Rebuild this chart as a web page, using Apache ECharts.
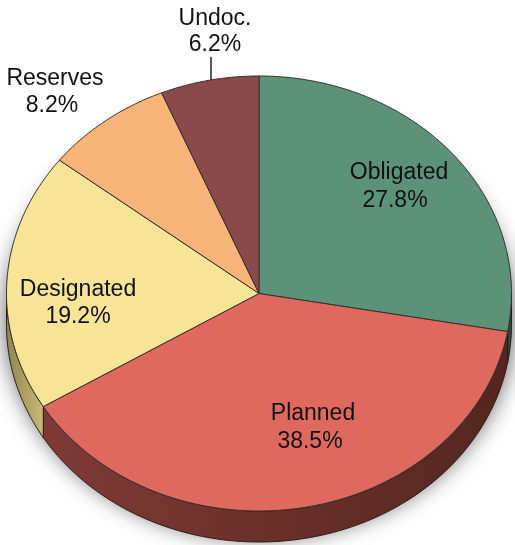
<!DOCTYPE html>
<html><head><meta charset="utf-8">
<style>
html,body{margin:0;padding:0;background:#fff}
#wrap{position:relative;width:515px;height:545px;overflow:hidden}
#soft{position:absolute;left:6.5px;top:101px;width:505px;height:435px;border-radius:50%;background:#888;box-shadow:0 0 22px 2px rgba(0,0,0,0.6)}
#c{position:absolute;left:0;top:0;width:515px;height:545px}
</style>
<script src="https://cdn.jsdelivr.net/npm/echarts@6/dist/echarts.min.js"></script>
</head><body><div id="wrap"><div id="soft"></div><div id="c"></div></div>
<script>
const categories = ['Obligated', 'Planned', 'Designated', 'Reserves', 'Undoc.'];
const percents = [27.8, 38.5, 19.2, 8.2, 6.2];

const topColors = ['#5c917a', '#e0695f', '#f7e497', '#f7b478', '#8a4a4c'];
const rimStops = [
  ['#2b4a3d', '#2b4a3d'],
  ['#7f3a36', '#54261f'],
  ['#8f8650', '#c9bb75'],
  ['#b08050', '#b08050'],
  ['#5a2f30', '#5a2f30']
];
// label centres in pixels: [name x, name y, percent x, percent y]
const labelPlaces = [
  [399, 173, 395, 201],
  [313, 414, 310, 442],
  [78, 290, 78, 317],
  [55, 79, 52, 106],
  [215, 19, 215, 45]
];
const CX = 259, CY = 293.5, RX = 252.5, RY = 217.5, DEPTH = 31;
const LABEL_FONT = '23px "Liberation Sans", Arial, sans-serif';
const FULL_CIRCLE_PERCENT = 100;

const starts = [];
percents.reduce((acc, v, i) => { starts[i] = acc; return acc + v; }, 0);
const toAngle = v => v / FULL_CIRCLE_PERCENT * 2 * Math.PI;
const rimPoint = (a, dy) => [
  CX + RX * Math.sin(a),
  CY - RY * Math.cos(a) + (dy || 0)
];

function arcPoints(a0, a1, dy) {
  const n = Math.max(2, Math.ceil((a1 - a0) / 0.01));
  const pts = [];
  for (let i = 0; i <= n; i++) pts.push(rimPoint(a0 + (a1 - a0) * i / n, dy));
  return pts;
}
// the rounding gap of the printed percentages closes on the last slice
function sliceEnd(i, value) {
  return i === percents.length - 1 ? 2 * Math.PI : toAngle(starts[i] + value);
}

function renderRim(params, api) {
  const i = params.dataIndex;
  const a0 = toAngle(starts[i]), a1 = sliceEnd(i, api.value(0));
  const lo = Math.max(a0, Math.PI / 2), hi = Math.min(a1, 1.5 * Math.PI);
  if (hi <= lo) return null;
  return {
    type: 'polygon',
    shape: { points: arcPoints(lo, hi, 0).concat(arcPoints(lo, hi, DEPTH).reverse()) },
    style: {
      fill: {
        type: 'linear', x: 0, y: 0, x2: 1, y2: 0,
        colorStops: [
          { offset: 0, color: rimStops[i][0] },
          { offset: 1, color: rimStops[i][1] }
        ]
      },
      stroke: '#2a1a18', lineWidth: 1
    }
  };
}

function renderTop(params, api) {
  const i = params.dataIndex;
  const a0 = toAngle(starts[i]), a1 = sliceEnd(i, api.value(0));
  return {
    type: 'polygon',
    shape: { points: [[CX, CY]].concat(arcPoints(a0, a1, 0)) },
    style: { fill: topColors[i], stroke: '#33302a', lineWidth: 1, lineJoin: 'round' }
  };
}

function renderLabel(params, api) {
  const i = params.dataIndex;
  const p = labelPlaces[i];
  const txt = (t, x, y) => ({
    type: 'text',
    style: { text: t, x, y, align: 'center', verticalAlign: 'middle', font: LABEL_FONT, fill: '#111' }
  });
  const kids = [
    txt(categories[i], p[0], p[1]),
    txt(api.value(0).toFixed(1) + '%', p[2], p[3])
  ];
  if (categories[i] === 'Undoc.') {
    kids.push({
      type: 'line',
      shape: { x1: 211, y1: 57, x2: 211, y2: 80 },
      style: { stroke: '#222', lineWidth: 1.5 }
    });
  }
  return { type: 'group', children: kids };
}

const pieData = categories.map((name, i) => ({ name, value: [percents[i]] }));
const base = { type: 'custom', coordinateSystem: 'none', silent: true, animation: false, clip: false };

const chart = echarts.init(document.getElementById('c'), null, { renderer: 'canvas' });
chart.setOption({
  backgroundColor: 'transparent',
  animation: false,
  series: [
    Object.assign({}, base, { name: 'rim', data: pieData, renderItem: renderRim, z: 2 }),
    Object.assign({}, base, { name: 'top', data: pieData, renderItem: renderTop, z: 3 }),
    Object.assign({}, base, { name: 'labels', data: pieData, renderItem: renderLabel, z: 4 })
  ]
});
</script></body></html>
